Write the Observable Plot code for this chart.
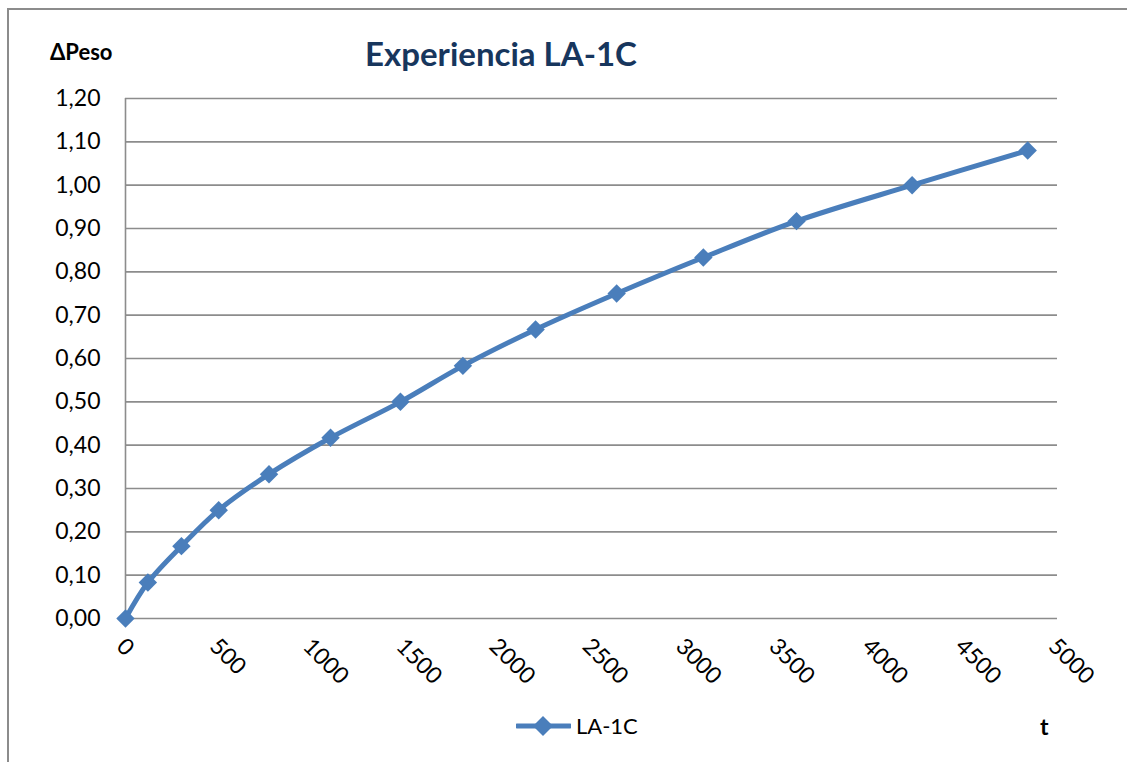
<!DOCTYPE html>
<html>
<head>
<meta charset="utf-8">
<script src="https://cdn.jsdelivr.net/npm/d3@7"></script>
<script src="https://cdn.jsdelivr.net/npm/@observablehq/plot@0.6"></script>
<style>
  html, body { margin: 0; padding: 0; background: #fff; }
  #wrap { position: relative; width: 1127px; height: 762px; overflow: hidden; font-family: Lato, "Open Sans", sans-serif; }
  #frame { position: absolute; left: 7px; top: 8px; width: 1200px; height: 800px; border-left: 2px solid #8c8c8c; border-top: 2px solid #8c8c8c; box-sizing: border-box; }
  #title { position: absolute; left: 0; width: 1002px; top: 33px; text-align: center; font-weight: bold; font-size: 33px; color: #17365D; }
  #ylab { position: absolute; left: 50px; top: 38px; font-weight: bold; font-size: 22px; color: #000; }
  #xlab { position: absolute; left: 1040px; top: 712px; font-weight: bold; font-size: 23px; color: #000; }
  #legend { position: absolute; left: 516px; top: 712px; font-size: 22px; color: #000; display: flex; align-items: center; }
  #legend svg { margin-right: 5px; }
  #chart { position: absolute; left: 0; top: 0; }
</style>
</head>
<body>
<div id="wrap">
  <div id="frame"></div>
  <div id="chart"></div>
  <div id="title">Experiencia LA-1C</div>
  <div id="ylab">ΔPeso</div>
  <div id="legend"><svg width="55" height="22"><line x1="1" y1="11" x2="54" y2="11" stroke="#4A7EBB" stroke-width="5" stroke-linecap="round"/><path d="M27,1 L37,11 L27,21 L17,11 Z" fill="#4A7EBB"/></svg><span>LA-1C</span></div>
  <div id="xlab">t</div>
</div>
<script>
const seriesName = "LA-1C";
const tValues = [0, 120, 300, 500, 770, 1100, 1475, 1810, 2200, 2635, 3100, 3600, 4220, 4840];
const pesoValues = [0, 0.083, 0.167, 0.25, 0.333, 0.417, 0.5, 0.583, 0.667, 0.75, 0.833, 0.917, 1.0, 1.08];
const xTicks = [0, 500, 1000, 1500, 2000, 2500, 3000, 3500, 4000, 4500, 5000];
const yTicks = [0, 0.1, 0.2, 0.3, 0.4, 0.5, 0.6, 0.7, 0.8, 0.9, 1.0, 1.1, 1.2];

const data = tValues.map((t, i) => ({t, peso: pesoValues[i], serie: seriesName}));
const fmt = v => v.toFixed(2).replace(".", ",");
const color = "#4A7EBB";

const chart = Plot.plot({
  width: 1127,
  height: 762,
  marginLeft: 125,
  marginRight: 70,
  marginTop: 98,
  marginBottom: 144,
  style: {fontFamily: "Lato, 'Open Sans', sans-serif", background: "transparent"},
  x: {domain: [0, 5000], axis: null},
  y: {domain: [0, 1.2], axis: null},
  marks: [
    Plot.ruleY(yTicks, {stroke: "#8c8c8c", strokeWidth: 1.6}),
    Plot.ruleX([0], {stroke: "#8c8c8c", strokeWidth: 1.6}),
    Plot.text(yTicks, {x: 0, y: d => d, text: fmt, textAnchor: "end", dx: -25, fontSize: 23, fill: "#000"}),
    Plot.text(xTicks, {x: d => d, y: 0, text: d => String(d), rotate: 45, textAnchor: "start", lineAnchor: "middle", dx: -5, dy: 24, fontSize: 23, fill: "#000"}),
    Plot.line(data, {x: "t", y: "peso", stroke: color, strokeWidth: 5, curve: "catmull-rom"}),
    Plot.dot(data, {x: "t", y: "peso", symbol: "diamond2", r: 8.3, fill: color, stroke: "none"})
  ]
});
document.getElementById("chart").appendChild(chart);
</script>
</body>
</html>
